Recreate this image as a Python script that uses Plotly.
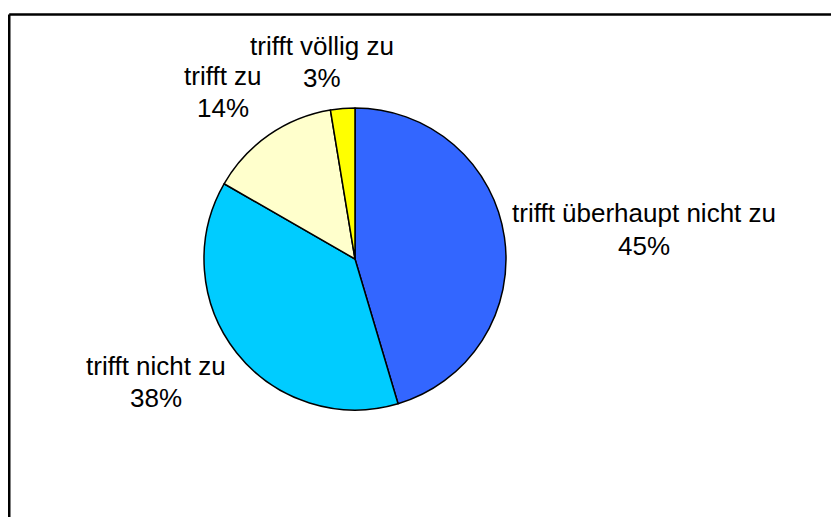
import plotly.graph_objects as go

categories = ["trifft überhaupt nicht zu", "trifft nicht zu", "trifft zu", "trifft völlig zu"]
values = [45.4, 37.9, 14.1, 2.6]
colors = ["#3366FF", "#00CCFF", "#FFFFCC", "#FFFF00"]

# The page body has an 8px margin; size the figure so the page never overflows.
OFF = 8
W, H = 839 - 2 * OFF, 525 - 2 * OFF
cx, cy, r = 355 - OFF, 259 - OFF, 151

fig = go.Figure(go.Pie(
    labels=categories,
    values=values,
    sort=False,
    direction="clockwise",
    rotation=0,
    marker=dict(colors=colors, line=dict(color="black", width=1.5)),
    textinfo="none",
    hoverinfo="label+percent",
    showlegend=False,
    domain=dict(x=[(cx - r) / W, (cx + r) / W], y=[(H - cy - r) / H, (H - cy + r) / H]),
))

total = sum(values)
# (x, y of first line, y of second line) in screen pixels
label_pos = [(644, 212, 245), (156, 365, 397), (223, 75, 107), (322, 45, 77)]
font = dict(family="Liberation Sans, Arial, sans-serif", size=26, color="black")
for cat, v, (px, py1, py2) in zip(categories, values, label_pos):
    for txt, py in ((cat, py1), (f"{round(v / total * 100)}%", py2)):
        fig.add_annotation(
            x=(px - OFF) / W, y=1 - (py - OFF + 1) / H, xref="paper", yref="paper",
            text=txt, showarrow=False, xanchor="center", yanchor="middle", font=font,
        )

bx, by = 9.2 - OFF, 14.5 - OFF
fig.add_shape(type="line", xref="paper", yref="paper",
              x0=bx / W, x1=1.0, y0=1 - by / H, y1=1 - by / H,
              line=dict(color="black", width=2.6))
fig.add_shape(type="line", xref="paper", yref="paper",
              x0=bx / W, x1=bx / W, y0=0, y1=1 - by / H,
              line=dict(color="black", width=2.6))

fig.update_layout(
    width=W, height=H,
    margin=dict(l=0, r=0, t=0, b=0),
    paper_bgcolor="white", plot_bgcolor="white",
)

fig.write_html(
    "out.html",
    config={"displayModeBar": False},
    post_script="document.documentElement.style.overflow='hidden';"
                "document.body.style.overflow='hidden';",
)
